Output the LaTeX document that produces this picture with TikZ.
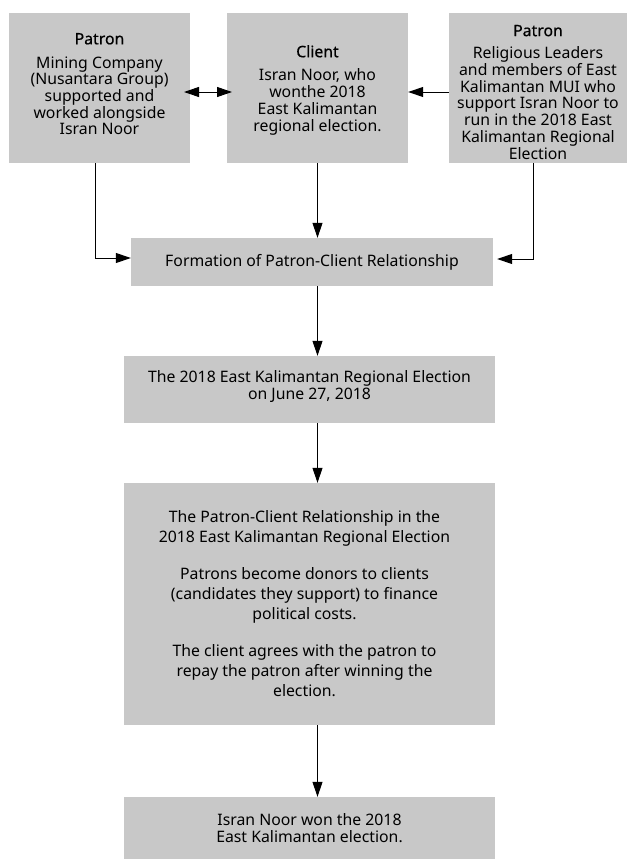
\documentclass[tikz,border=0pt]{standalone}
\usepackage{fontspec}
\setmainfont{Noto Sans}
\newfontfamily\medfont{Noto Sans}[FakeBold=0.6]
\usetikzlibrary{arrows.meta}
\definecolor{boxgray}{RGB}{200,200,200}
\begin{document}
\begin{tikzpicture}[x=1pt,y=1pt,
  shapebox/.style={fill=boxgray, draw=none, inner sep=0pt},
  boxtext/.style={align=center, inner sep=0pt,
    font=\fontsize{15.8}{16.7}\selectfont},
  bigtext/.style={boxtext, font=\fontsize{15.8}{20}\selectfont},
  tip/.style={-{Triangle[length=15pt,width=10pt]}},
  conn/.style={draw=black, line width=1pt, tip},
  dconn/.style={draw=black, line width=1pt, {Triangle[length=15pt,width=10pt]}-{Triangle[length=15pt,width=10pt]}},
]
\useasboundingbox (0,0) rectangle (627,-859);

% boxes
\node[shapebox, minimum width=181pt, minimum height=150pt] (p1) at (99.5,-88) {};
\node[shapebox, minimum width=181pt, minimum height=150pt] (cl) at (317.5,-88) {};
\node[shapebox, minimum width=178pt, minimum height=150pt] (p2) at (538,-88) {};
\node[shapebox, minimum width=362pt, minimum height=48pt] (form) at (312,-262) {};
\node[shapebox, minimum width=371pt, minimum height=67pt] (elec) at (309.5,-389.5) {};
\node[shapebox, minimum width=371pt, minimum height=242pt] (rel) at (309.5,-604) {};
\node[shapebox, minimum width=371pt, minimum height=62pt] (won) at (309.5,-828) {};

% texts
\node[boxtext] (p1t) at ([yshift=4pt]p1.center)
  {{\medfont Patron}\\[7pt]Mining Company\\(Nusantara Group)\\supported and\\worked alongside\\Isran Noor};
\node[boxtext] (clt) at ([yshift=-2pt]cl.center)
  {{\medfont Client}\\[7pt]Isran Noor, who\\wonthe 2018\\East Kalimantan\\regional election.};
\node[boxtext] (p2t) at ([yshift=-4pt]p2.center)
  {{\medfont Patron}\\[6pt]Religious Leaders\\and members of East\\Kalimantan MUI who\\support Isran Noor to\\run in the 2018 East\\Kalimantan Regional\\Election};
\node[boxtext] (formt) at (form.center)
  {Formation of Patron-Client Relationship};
\node[boxtext] (elect) at ([yshift=3pt]elec.center)
  {The 2018 East Kalimantan Regional Election\\on June 27, 2018};
\node[bigtext] (relt) at ([xshift=-5pt]rel.center)
  {The Patron-Client Relationship in the\\2018 East Kalimantan Regional Election\\[17pt]
   Patrons become donors to clients\\(candidates they support) to finance\\political costs.\\[17pt]
   The client agrees with the patron to\\repay the patron after winning the\\election.};
\node[boxtext] (wont) at (won.center)
  {Isran Noor won the 2018\\East Kalimantan election.};

% connectors
\coordinate (d1) at (184,-92);
\coordinate (d2) at (232,-92);
\draw[dconn] (d1) -- (d2);
\draw[conn] (p2.west |- 0,-92) -- (cl.east |- 0,-92);

\draw[conn] (p1.south -| 95,0) |- (form.west |- 0,-258);
\draw[conn] (p2.south -| 533,0) |- ([xshift=4pt]form.east |- 0,-259);
\draw[conn] (cl.south) -- (cl.south |- form.north);
\draw[conn] (cl.south |- form.south) -- (cl.south |- elec.north);
\draw[conn] (cl.south |- elec.south) -- (cl.south |- rel.north);
\draw[conn] (cl.south |- rel.south) -- (cl.south |- won.north);
\end{tikzpicture}
\end{document}
